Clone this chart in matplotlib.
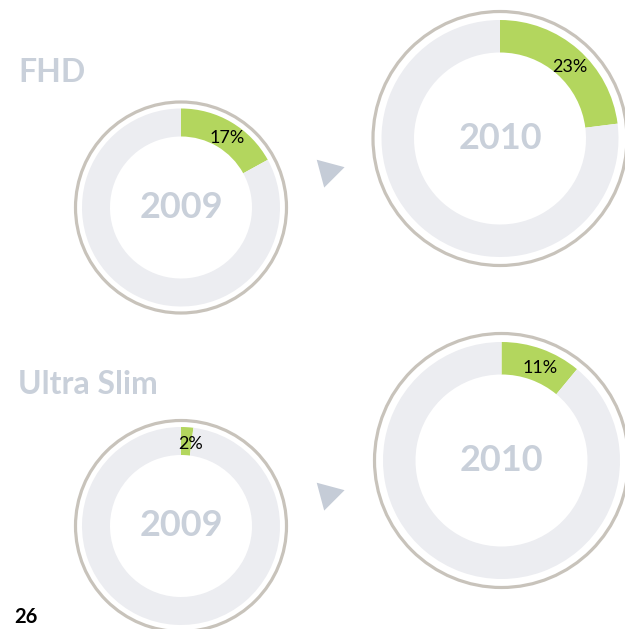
import matplotlib.pyplot as plt
from matplotlib.patches import Circle
import numpy as np

# data
groups = ["FHD", "Ultra Slim"]
years = ["2009", "2010"]
fhd_share = [17, 23]
slim_share = [2, 11]
page_number = "26"

GREEN = "#b3d65e"
TRACK = "#ecedf1"
RING = "#c8c3bb"
PALE = "#c9d0da"

W, H = 625, 629
fig = plt.figure(figsize=(W / 100, H / 100), dpi=100)
plt.rcParams['font.family'] = ['Lato', 'DejaVu Sans']

bg = fig.add_axes([0, 0, 1, 1])
bg.set_xlim(0, W)
bg.set_ylim(H, 0)
bg.axis('off')


def donut(cx, cy, r_out, r_in, ring_r, share, year):
    half = ring_r + 6
    ax = fig.add_axes([(cx - half) / W, 1 - (cy + half) / H, 2 * half / W, 2 * half / H])
    ax.pie([share, 100 - share], colors=[GREEN, TRACK], startangle=90,
           counterclock=False, radius=r_out,
           wedgeprops=dict(width=r_out - r_in, linewidth=0))
    ax.add_patch(Circle((0, 0), ring_r, fill=False, ec=RING, lw=2.3))
    ax.set_xlim(-half, half)
    ax.set_ylim(-half, half)
    ax.set_aspect('equal')
    ax.axis('off')
    theta = np.deg2rad(share / 100 * 360 / 2 + 3)
    rm = (r_out + r_in) / 2 - 2
    ax.text(rm * np.sin(theta), rm * np.cos(theta), f"{share}%",
            ha='center', va='center', fontsize=13, color='black')
    ax.text(0, 0, year, ha='center', va='center', fontsize=26,
            color=PALE, fontweight='bold')


donut(181, 207.5, 99, 71, 105.5, fhd_share[0], years[0])
donut(500, 138.5, 118.5, 86, 127, fhd_share[1], years[1])
donut(181, 526, 99, 71, 105.5, slim_share[0], years[0])
donut(501.5, 460.5, 118.5, 86, 127, slim_share[1], years[1])

# group titles
bg.text(18, 73, groups[0], fontsize=23, fontweight='bold', color=PALE,
        ha='left', va='center')
bg.text(18, 384, groups[1], fontsize=23, fontweight='bold', color=PALE,
        ha='left', va='center')

# arrows between years
for ty in (170.5, 494):
    bg.plot(327.5, ty, marker=(3, 0, -75), ms=24, color="#c5ccd7", mec='none')

bg.text(14, 627, page_number, fontsize=14.5, fontweight='bold', color='black',
        ha='left', va='bottom')

fig.savefig("out.png", dpi=100, facecolor='white')
